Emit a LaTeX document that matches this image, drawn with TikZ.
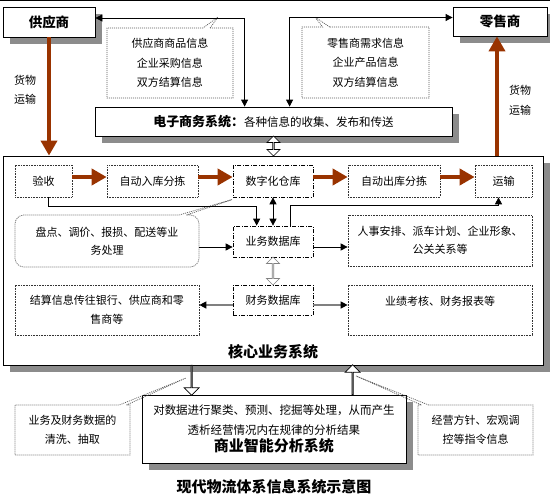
\documentclass[tikz,border=0pt]{standalone}
\usepackage{fontspec}
\setmainfont{Noto Sans CJK SC}
\usetikzlibrary{shapes.callouts,shapes.arrows,arrows.meta,calc,shadows}
\definecolor{brownarr}{RGB}{153,51,0}
\definecolor{shadowgray}{RGB}{140,140,140}
\definecolor{linegray}{RGB}{128,128,128}
\begin{document}
\begin{tikzpicture}[x=1pt,y=-1pt,
  base/.style={inner sep=0pt, align=center, font=\fontsize{11}{19.5}\selectfont},
  solidbox/.style={base, draw, line width=0.8pt, fill=white,
    drop shadow={shadow xshift=7pt,shadow yshift=-7pt,fill=shadowgray,opacity=1}},
  procbox/.style={base, draw=black!80, line width=0.7pt, dash pattern=on 0.8pt off 0.8pt},
  dbbox/.style={base, draw, line width=0.7pt, dash pattern=on 4pt off 1.5pt on 1pt off 1.5pt},
  notebox/.style={base, rectangle callout, draw=black!65, line width=0.7pt, dash pattern=on 1pt off 1pt},
  goods/.style={draw=brownarr, line width=4pt, -{Triangle[length=15pt,width=16pt]}},
  conn/.style={draw, line width=0.8pt, -{Triangle[length=7pt,width=7pt]}},
  twoway/.style={draw, line width=0.8pt, {Triangle[length=7pt,width=7pt]}-{Triangle[length=7pt,width=7pt]}},
  grayconn/.style={draw=linegray, line width=1.3pt, -{Triangle[length=7pt,width=7pt,black]}},
  hollowtwo/.style={double arrow, draw, fill=white, inner sep=0pt, line width=0.7pt, double arrow head extend=3pt},
  hollowone/.style={single arrow, draw, fill=white, inner sep=0pt, line width=0.7pt, single arrow head extend=3.5pt},
  titlefont/.style={font=\fontsize{15}{16}\selectfont\bfseries}
]
\useasboundingbox (0,0) rectangle (550,501);
\draw[line width=0.8pt] (0,0.5) -- (550,0.5);

% top partners
\node[solidbox, minimum width=92, minimum height=30, font=\fontsize{13.5}{14}\selectfont\bfseries] (gys) at (49,22) {供应商};
\node[solidbox, minimum width=94, minimum height=29, font=\fontsize{13.5}{14}\selectfont\bfseries] (lss) at (500,21.5) {零售商};

\node[notebox, minimum width=126, minimum height=70, callout absolute pointer={(218,17)}] (gi) at (170,63) {供应商商品信息\\企业采购信息\\双方结算信息};
\node[notebox, minimum width=127, minimum height=71, callout absolute pointer={(315,17)}] (li) at (365.5,62.5) {零售商需求信息\\企业产品信息\\双方结算信息};

\node (c1) at (25,80) {\fontsize{11}{12}\selectfont 货物};
\node (c2) at (25,99) {\fontsize{11}{12}\selectfont 运输};
\node (c3) at (520,90) {\fontsize{11}{12}\selectfont 货物};
\node (c4) at (520,110) {\fontsize{11}{12}\selectfont 运输};

% e-commerce
\node[solidbox, minimum width=357, minimum height=29] (ecom) at (273.5,121.5) {{\fontsize{13}{14}\selectfont\bfseries 电子商务系统：}{\fontsize{11.5}{14}\selectfont 各种信息的收集、发布和传送}};

\draw[twoway] ($(gys.east)+(0,-4)$) -| ($(ecom.north west)+(150,0)$);
\draw[twoway] ($(lss.west)+(0,-4)$) -| ($(ecom.north west)+(195,0)$);

% core system
\node[solidbox, minimum width=540, minimum height=209] (core) at (273,260.5) {};
\node[titlefont] (coret) at (273,352) {核心业务系统};

\node[hollowtwo, rotate=90, minimum height=20, minimum width=13] (a1) at ($(ecom.south)!0.5!(ecom.south |- core.north)$) {};

\draw[goods] (gys.south) -- (gys.south |- core.north);
\draw[goods] ($(lss.south |- core.north)+(-3,0)$) -- ($(lss.south)+(-3,0)$);

\node[procbox, minimum width=57, minimum height=32] (ys) at (43.5,181) {验收};
\node[procbox, minimum width=91, minimum height=32] (rk) at (152.5,181) {自动入库分拣};
\node[dbbox, minimum width=80, minimum height=32] (szck) at (273,181) {数字化仓库};
\node[procbox, minimum width=92, minimum height=32] (ck) at (394,181) {自动出库分拣};
\node[procbox, minimum width=57, minimum height=32] (ysh) at (503.5,181) {运输};

\draw[goods] ($(ys.east)+(0,-4)$) -- ($(rk.west)+(0,-4)$);
\draw[goods] ($(rk.east)+(0,-4)$) -- ($(szck.west)+(0,-4)$);
\draw[goods] ($(szck.east)+(0,-4)$) -- ($(ck.west)+(0,-4)$);
\draw[goods] ($(ck.east)+(0,-4)$) -- ($(ysh.west)+(0,-4)$);

\node[dbbox, minimum width=80, minimum height=31] (ywdb) at (273,241.5) {业务数据库};
\node[dbbox, minimum width=80, minimum height=30] (cwdb) at (273,300) {财务数据库};

\node[notebox, rounded corners=9pt, minimum width=184, minimum height=52, callout absolute pointer={(237,198)}, font=\fontsize{11}{18}\selectfont] (pd) at (107,241) {盘点、调价、报损、配送等业\\务处理};
\node[procbox, minimum width=184, minimum height=50, font=\fontsize{11}{19}\selectfont] (js) at (107,310) {结算信息传往银行、供应商和零\\售商等};
\node[procbox, minimum width=184, minimum height=51, font=\fontsize{11}{18}\selectfont] (rs) at (440,240.5) {人事安排、派车计划、企业形象、\\公关关系等};
\node[procbox, minimum width=184, minimum height=50, font=\fontsize{11}{19}\selectfont] (yj) at (440,310) {业绩考核、财务报表等\\\mbox{}};

\draw[conn] ($(ys.south)+(5,0)$) -- ++(0,9) -| ($(ywdb.north west)+(24,0)$);
\draw[conn] ($(ywdb.north west)+(58,0)$) -- ++(0,-20) -| ($(ysh.south)+(-5,0)$);
\draw[twoway] (szck) -- (ywdb);
\node[hollowtwo, draw=linegray, rotate=90, minimum height=28, minimum width=13] (a2) at ($(ywdb.south)!0.5!(cwdb.north)$) {};

\draw[conn] ($(pd.east)+(0,6)$) -- ($(ywdb.west |- pd.east)+(0,6)$);
\draw[conn] ($(ywdb.east)+(0,5.5)$) -- ($(rs.west |- ywdb.east)+(0,5.5)$);
\draw[grayconn] ($(cwdb.west)+(0,5)$) -- ($(js.east |- cwdb.west)+(0,5)$);
\draw[grayconn] ($(cwdb.east)+(0,5)$) -- ($(yj.west |- cwdb.east)+(0,5)$);

% business intelligence
\node[solidbox, minimum width=264, minimum height=68, font=\fontsize{11.5}{20}\selectfont] (bi) at (274,429) {对数据进行聚类、预测、挖掘等处理，从而产生\\透析经营情况内在规律的分析结果\\[-3pt]{\fontsize{15}{16}\selectfont\bfseries 商业智能分析系统}};

\coordinate (d1) at ($(bi.north west)+(50,0)$);
\coordinate (d2) at (d1 |- core.south);
\coordinate (u1) at ($(bi.north west)+(211,0)$);
\coordinate (u2) at (u1 |- core.south);
\node[hollowone, rotate=-90, minimum height=30, minimum width=15] (a3) at ($(d1)!0.5!(d2)$) {};
\node[hollowone, rotate=90, minimum height=30, minimum width=15] (a4) at ($(u1)!0.5!(u2)$) {};

\node[notebox, minimum width=115, minimum height=50, callout absolute pointer={(186,378)}, font=\fontsize{11}{19}\selectfont] (qx) at (72.5,430) {业务及财务数据的\\清洗、抽取};
\node[notebox, minimum width=115, minimum height=50, callout absolute pointer={(356,376)}, font=\fontsize{11}{19}\selectfont] (zl) at (475.5,430) {经营方针、宏观调\\控等指令信息};

\node[titlefont] (cap) at (274,487) {现代物流体系信息系统示意图};
\end{tikzpicture}
\end{document}
